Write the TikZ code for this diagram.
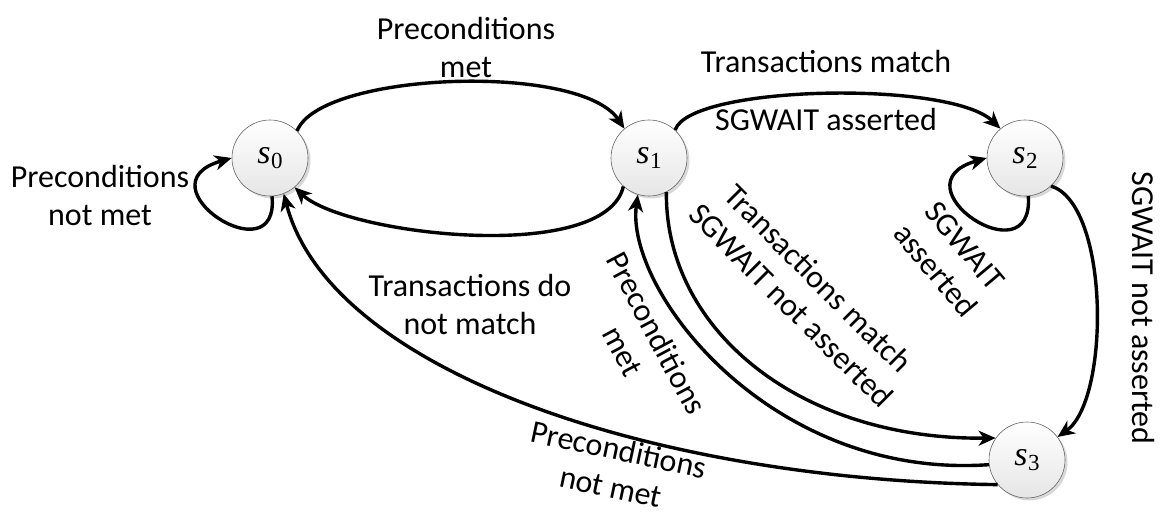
\documentclass[tikz,border=0pt]{standalone}
\usepackage{fontspec}
\setmainfont{Carlito}
\newfontfamily\statefont{Liberation Serif}
\usetikzlibrary{arrows.meta,shadows}

% state name: italic letter with an upright, lowered index
\newcommand{\statename}[1]{{\statefont\fontsize{34}{34}\selectfont\itshape s}\kern0.5pt\raisebox{-5pt}{\statefont\fontsize{23}{23}\selectfont #1}}

\begin{document}
\begin{tikzpicture}[x=1pt,y=-1pt,
  state/.style={circle, minimum size=76pt, inner sep=0pt, draw=black!60, line width=0.6pt,
    top color=white, bottom color=black!10,
    drop shadow={shadow xshift=2.5pt, shadow yshift=-2.5pt, fill=black!30, opacity=0.5}},
  edge/.style={line width=3.4pt, -{Stealth[length=17pt,width=15pt,inset=5pt]}},
  lbl/.style={font=\fontsize{32}{38}\selectfont, align=center, inner sep=0pt}
]
\useasboundingbox (0,0) rectangle (1163,516);

% states
\node[state] (s0) at (270,158) {\statename{0}};
\node[state] (s1) at (649,158) {\statename{1}};
\node[state] (s2) at (1025,158) {\statename{2}};
\node[state] (s3) at (1027,460) {\statename{3}};

% transitions
\draw[edge] (s0.45) .. controls (320,72) and (580,62) .. (s1.130);
\draw[edge] (s1.228) .. controls (605,265) and (345,235) .. (s0.-50);
\draw[edge] (s0.-87) .. controls (280,278) and (138,185) .. (s0.180);
\draw[edge] (s1.47) .. controls (690,85) and (950,80) .. (s2.130);
\draw[edge] (s2.-85) .. controls (1034,280) and (893,185) .. (s2.180);
\draw[edge] (s2.-47) .. controls (1110,205) and (1110,400) .. (s3.37);
\draw[edge] (s1.-63) .. controls (665,330) and (800,440) .. (s3.145);
\draw[edge] (s3.187) .. controls (770,480) and (625,290) .. (s1.-107);
\draw[edge] (s3.220) .. controls (650,480) and (330,370) .. (s0.-69);

% transition labels
\node[lbl] (la) at (466,48) {Preconditions\\met};
\node[lbl] (lb) at (470,305) {Transactions do\\not match};
\node[lbl] (lc) at (100,196) {Preconditions\\not met};
\node[lbl] (ld1) at (826,62) {Transactions match};
\node[lbl] (ld2) at (826,120) {SGWAIT asserted};
\node[lbl, rotate=-50] (le) at (950,258) {SGWAIT\\asserted};
\node[lbl, rotate=-90] (lf) at (1143,308) {SGWAIT not asserted};
\node[lbl, rotate=-45] (lg) at (805,292) {Transactions match\\SGWAIT not asserted};
\node[lbl, rotate=-62] (lh) at (640,342) {Preconditions\\met};
\node[lbl, rotate=-12] (li) at (615,468) {Preconditions\\not met};
\end{tikzpicture}
\end{document}
